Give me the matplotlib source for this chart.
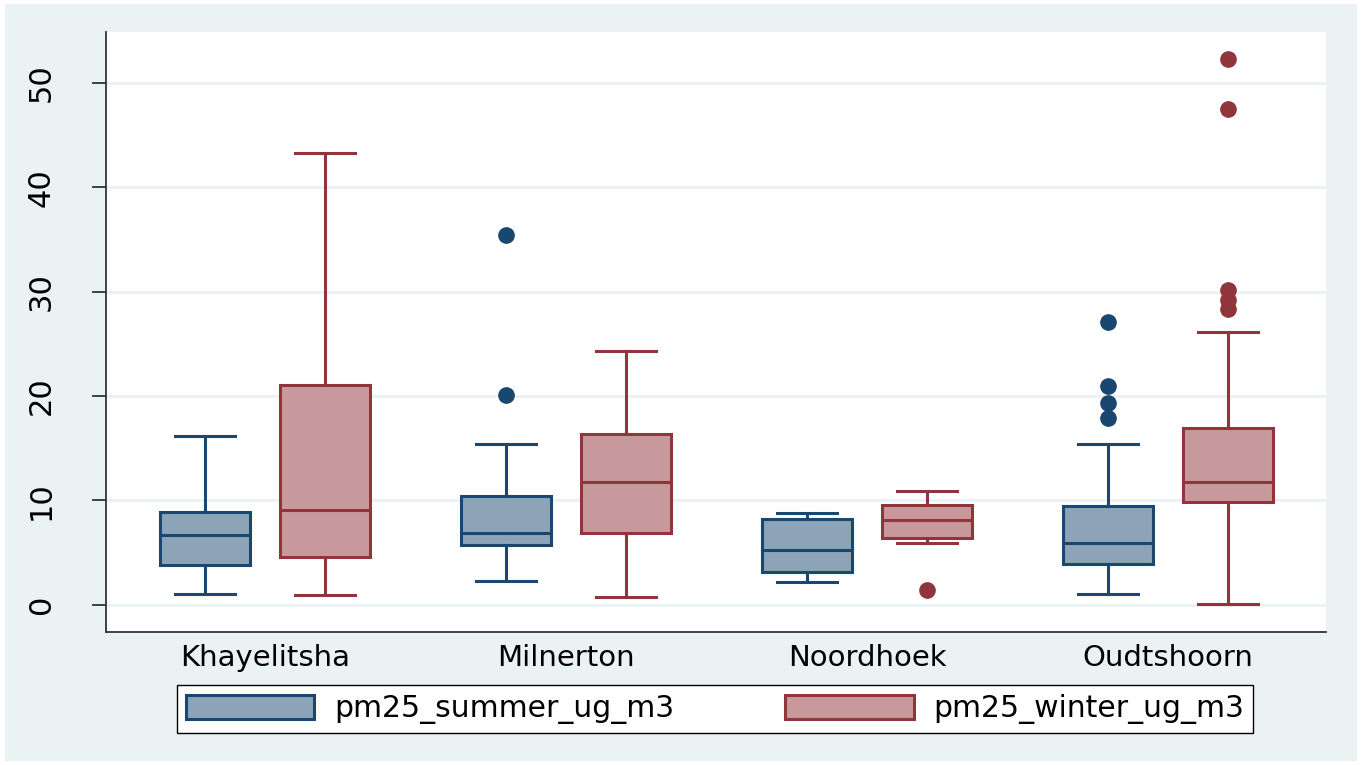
import matplotlib
matplotlib.use("Agg")
import matplotlib.pyplot as plt
from matplotlib.patches import Patch, Rectangle

# box statistics (ug/m3)
sites = ['Khayelitsha', 'Milnerton', 'Noordhoek', 'Oudtshoorn']
series = ['pm25_summer_ug_m3', 'pm25_winter_ug_m3']

summer_whislo = [1.05, 2.25, 2.15, 1.05]
summer_q1 = [3.8, 5.7, 3.1, 3.9]
summer_med = [6.65, 6.85, 5.25, 5.9]
summer_q3 = [8.85, 10.45, 8.2, 9.45]
summer_whishi = [16.15, 15.45, 8.75, 15.45]
summer_fliers = [[], [35.4, 20.1], [], [27.1, 21.0, 19.3, 17.9]]

winter_whislo = [0.95, 0.75, 5.9, 0.05]
winter_q1 = [4.55, 6.85, 6.4, 9.8]
winter_med = [9.1, 11.8, 8.1, 11.75]
winter_q3 = [21.05, 16.35, 9.6, 16.9]
winter_whishi = [43.3, 24.3, 10.9, 26.1]
winter_fliers = [[], [], [1.4], [52.3, 47.5, 30.2, 29.2, 28.3]]

BG = '#EAF2F3'
edge_colors = ['#1A476F', '#90353B']
fill_colors = ['#8DA4B8', '#C8999C']

plt.rcParams['font.family'] = 'DejaVu Sans'

fig = plt.figure(figsize=(13.62, 7.65), dpi=100, facecolor='white')
fig.patches.append(Rectangle((5 / 1362, 4 / 765), 1352 / 1362, 757 / 765,
                             transform=fig.transFigure, facecolor=BG,
                             edgecolor='none', zorder=-10))

ax = fig.add_axes([106 / 1362, 1 - 632 / 765, 1220 / 1362, 600 / 765])
ax.set_facecolor('white')


def make_stats(lo, q1, med, q3, hi, fl):
    out = []
    for i in range(len(lo)):
        out.append({'whislo': lo[i], 'q1': q1[i], 'med': med[i], 'q3': q3[i],
                    'whishi': hi[i], 'fliers': fl[i]})
    return out


groups = [
    make_stats(summer_whislo, summer_q1, summer_med, summer_q3, summer_whishi, summer_fliers),
    make_stats(winter_whislo, winter_q1, winter_med, winter_q3, winter_whishi, winter_fliers),
]
offsets = [-0.2, 0.2]

for k, stats in enumerate(groups):
    pos = [i + 1 + offsets[k] for i in range(len(sites))]
    ec = edge_colors[k]
    ax.bxp(stats, positions=pos, widths=0.3, patch_artist=True, showfliers=True,
           capwidths=0.2,
           boxprops=dict(facecolor=fill_colors[k], edgecolor=ec, linewidth=2.2),
           medianprops=dict(color=ec, linewidth=2.2),
           whiskerprops=dict(color=ec, linewidth=2.2),
           capprops=dict(color=ec, linewidth=2.2),
           flierprops=dict(marker='o', markerfacecolor=ec, markeredgecolor=ec,
                           markersize=11, linestyle='none'))

ax.set_xlim(0.472, 4.525)
ax.set_ylim(-2.62, 54.9)
ax.set_xticks(range(1, len(sites) + 1))
ax.set_xticklabels(sites, fontsize=21)
ax.tick_params(axis='x', length=0, pad=9)
ax.set_yticks([0, 10, 20, 30, 40, 50])
ax.set_yticklabels(['0', '10', '20', '30', '40', '50'], rotation=90, va='center', fontsize=22)
ax.tick_params(axis='y', length=10, width=1.3, color='#333333', pad=26)

ax.yaxis.grid(True, color=BG, linewidth=2)
ax.set_axisbelow(True)
for s in ['top', 'right']:
    ax.spines[s].set_visible(False)
for s in ['left', 'bottom']:
    ax.spines[s].set_color('#333333')
    ax.spines[s].set_linewidth(1.3)

handles = [Patch(facecolor=fill_colors[i], edgecolor=edge_colors[i], linewidth=2.2)
           for i in range(2)]
leg = fig.legend(handles, series, loc='lower left', ncol=2, mode='expand',
                 bbox_to_anchor=(177 / 1362, 1 - 733 / 765, 1076 / 1362, 49 / 765),
                 borderaxespad=0, fontsize=21.5, handlelength=4.3, handleheight=0.85,
                 handletextpad=0.65, borderpad=0.3, fancybox=False,
                 framealpha=1, edgecolor='black')
leg.get_frame().set_linewidth(1.0)

fig.savefig('out.png', dpi=100, facecolor=fig.get_facecolor())
